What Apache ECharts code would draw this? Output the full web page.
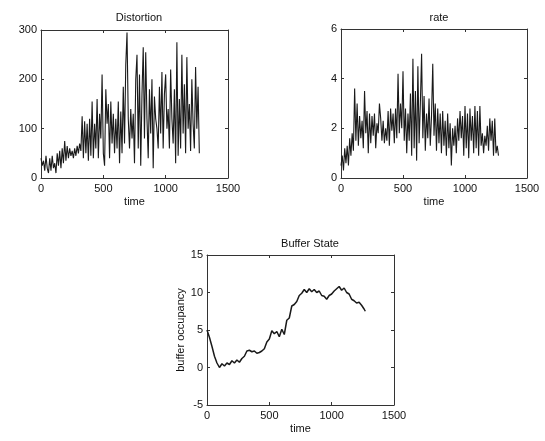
<!DOCTYPE html>
<html>
<head>
<meta charset="utf-8">
<script src="https://cdn.jsdelivr.net/npm/echarts@6/dist/echarts.min.js"></script>
<style>html,body{margin:0;padding:0;background:#fff}#c{width:545px;height:441px}</style>
</head>
<body>
<div id="c"></div>
<script>
// time samples for Distortion and rate (step 10)
var timeFast = [0,10,20,30,40,50,60,70,80,90,100,110,120,130,140,150,160,170,180,190,200,210,220,230,240,250,260,270,280,290,300,310,320,330,340,350,360,370,380,390,400,410,420,430,440,450,460,470,480,490,500,510,520,530,540,550,560,570,580,590,600,610,620,630,640,650,660,670,680,690,700,710,720,730,740,750,760,770,780,790,800,810,820,830,840,850,860,870,880,890,900,910,920,930,940,950,960,970,980,990,1000,1010,1020,1030,1040,1050,1060,1070,1080,1090,1100,1110,1120,1130,1140,1150,1160,1170,1180,1190,1200,1210,1220,1230,1240,1250,1260,1270];
var distortion = [40,25,35,15,45,20,10,40,15,45,20,30,10,50,25,55,20,60,30,75,35,65,40,60,45,55,40,60,45,65,50,70,55,125,40,115,50,110,35,120,45,155,40,110,60,160,40,130,80,210,50,25,180,110,150,40,155,70,130,50,120,60,155,30,135,50,185,70,230,295,120,60,140,80,130,30,200,250,60,210,25,170,265,80,255,120,40,180,90,200,20,165,120,100,60,185,90,215,60,170,210,100,140,60,220,120,70,180,30,275,45,160,60,250,90,190,50,245,100,150,55,200,110,60,225,100,185,50];
var rate = [0.5,0.9,0.3,1.2,0.6,1.3,0.5,1.6,0.9,1.8,1.1,3.6,1.5,3.0,1.3,2.5,1.6,2.3,1.2,3.5,1.8,2.7,1.0,2.6,1.4,2.5,1.7,2.6,1.2,2.2,1.8,3.0,2.4,1.5,2.3,1.4,2.0,1.5,2.7,1.3,2.8,1.9,2.6,1.4,2.8,1.6,4.2,1.8,3.0,2.0,4.3,1.5,2.8,1.0,2.6,1.5,3.4,0.9,4.8,1.2,3.5,0.7,4.5,1.4,3.0,5.0,1.6,3.3,1.1,2.6,1.6,3.2,1.3,2.5,4.6,1.7,3.0,1.1,2.8,1.4,2.6,1.0,2.7,1.3,2.3,0.9,2.6,1.2,2.2,0.5,2.0,1.3,2.1,1.0,2.4,1.5,2.7,1.6,2.5,0.9,2.9,1.2,2.6,0.8,2.8,1.5,2.5,1.0,2.9,1.2,2.7,0.9,2.9,1.3,1.8,1.0,1.7,1.3,2.1,1.1,2.4,1.5,2.3,0.9,2.4,1.0,1.3,0.9];
// time samples for Buffer State (step 20)
var timeSlow = [0,20,40,60,80,100,120,140,160,180,200,220,240,260,280,300,320,340,360,380,400,420,440,460,480,500,520,540,560,580,600,620,640,660,680,700,720,740,760,780,800,820,840,860,880,900,920,940,960,980,1000,1020,1040,1060,1080,1100,1120,1140,1160,1180,1200,1220,1240,1260,1270];
var buffer = [5.0,4.0,2.8,1.5,0.6,0.0,0.5,0.2,0.6,0.4,0.9,0.6,1.0,0.7,1.2,1.5,2.2,2.3,2.1,2.2,1.9,2.0,2.2,2.5,3.4,3.8,4.9,4.5,4.8,4.1,5.1,4.4,6.3,6.6,8.2,8.4,8.8,9.6,9.9,10.4,10.0,10.5,10.1,10.4,10.0,10.2,9.6,9.5,9.1,9.6,9.8,10.2,10.5,10.8,10.3,10.6,10.0,9.8,9.1,8.9,8.6,8.7,8.3,7.8,7.5];
var xTicks = {min: 0, max: 1500, interval: 500};
var distTicks = {min: 0, max: 300, interval: 100};
var rateTicks = {min: 0, max: 6, interval: 2};
var bufTicks = {min: -5, max: 15, interval: 5};

function pairs(t, v) { return t.map(function (x, i) { return [x, v[i]]; }); }

var FONT = 'Liberation Sans';
var axisColor = '#333';
function fmt(v) { return String(v); }
function mkX(grid, pos, show, name, gap) {
  return {
    type: 'value', gridIndex: grid, position: pos,
    min: xTicks.min, max: xTicks.max, interval: xTicks.interval,
    axisLine: {show: true, onZero: false, lineStyle: {color: axisColor, width: 1}},
    axisTick: {show: true, inside: true, length: 3, lineStyle: {color: axisColor}},
    splitLine: {show: false},
    axisLabel: {show: show, color: '#111', fontFamily: FONT, fontSize: 11, margin: 5, formatter: fmt,
      showMinLabel: true, showMaxLabel: true},
    name: name, nameLocation: 'middle', nameGap: gap,
    nameTextStyle: {color: '#111', fontFamily: FONT, fontSize: 11}
  };
}
function mkY(grid, pos, show, tk, name, gap) {
  return {
    type: 'value', gridIndex: grid, position: pos,
    min: tk.min, max: tk.max, interval: tk.interval,
    axisLine: {show: true, onZero: false, lineStyle: {color: axisColor, width: 1}},
    axisTick: {show: true, inside: true, length: 3, lineStyle: {color: axisColor}},
    splitLine: {show: false},
    axisLabel: {show: show, color: '#111', fontFamily: FONT, fontSize: 11, margin: 4, formatter: fmt,
      showMinLabel: true, showMaxLabel: true},
    name: name, nameLocation: 'middle', nameGap: gap, nameRotate: 90,
    nameTextStyle: {color: '#111', fontFamily: FONT, fontSize: 11}
  };
}

var chart = echarts.init(document.getElementById('c'), null, {renderer: 'canvas'});
var lineStyle = {color: '#1a1a1a', width: 1.1};
chart.setOption({
  animation: false,
  backgroundColor: '#fff',
  title: [
    {text: 'Distortion', left: 134, top: 7, textAlign: 'center', textStyle: {fontFamily: FONT, fontSize: 11, fontWeight: 'normal', color: '#111'}},
    {text: 'rate', left: 434, top: 7, textAlign: 'center', textStyle: {fontFamily: FONT, fontSize: 11, fontWeight: 'normal', color: '#111'}},
    {text: 'Buffer State', left: 305, top: 233, textAlign: 'center', textStyle: {fontFamily: FONT, fontSize: 11, fontWeight: 'normal', color: '#111'}}
  ],
  grid: [
    {left: 41, top: 30, width: 187, height: 148},
    {left: 341, top: 29, width: 186, height: 149},
    {left: 207, top: 255, width: 187, height: 150}
  ],
  xAxis: [
    mkX(0, 'bottom', true, 'time', 18), mkX(0, 'top', false, '', 0),
    mkX(1, 'bottom', true, 'time', 18), mkX(1, 'top', false, '', 0),
    mkX(2, 'bottom', true, 'time', 18), mkX(2, 'top', false, '', 0)
  ],
  yAxis: [
    mkY(0, 'left', true, distTicks, '', 0), mkY(0, 'right', false, distTicks, '', 0),
    mkY(1, 'left', true, rateTicks, '', 0), mkY(1, 'right', false, rateTicks, '', 0),
    mkY(2, 'left', true, bufTicks, 'buffer occupancy', 20), mkY(2, 'right', false, bufTicks, '', 0)
  ],
  series: [
    {type: 'line', xAxisIndex: 0, yAxisIndex: 0, data: pairs(timeFast, distortion), showSymbol: false, lineStyle: lineStyle},
    {type: 'line', xAxisIndex: 2, yAxisIndex: 2, data: pairs(timeFast, rate), showSymbol: false, lineStyle: lineStyle},
    {type: 'line', xAxisIndex: 4, yAxisIndex: 4, data: pairs(timeSlow, buffer), showSymbol: false, lineStyle: {color: '#1a1a1a', width: 1.5}}
  ]
});
</script>
</body>
</html>
